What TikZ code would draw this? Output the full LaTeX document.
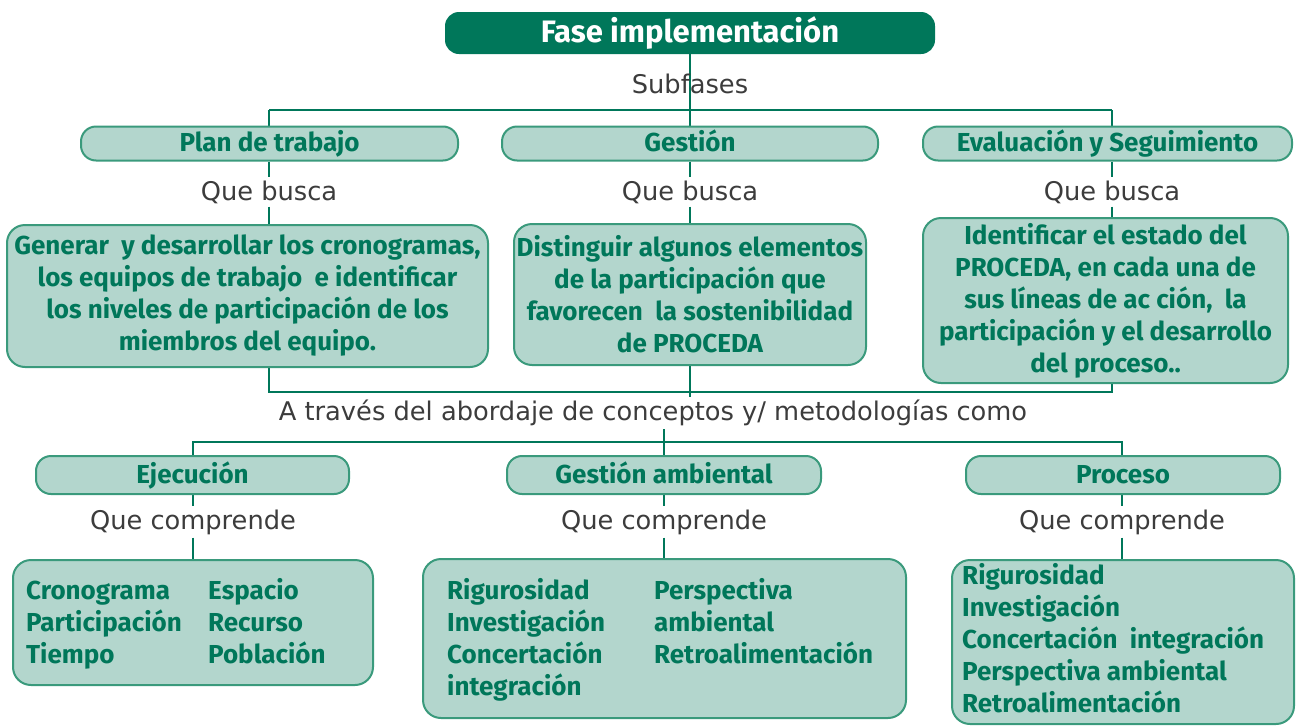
\documentclass[tikz,border=0pt]{standalone}
\usepackage{fontspec}
\setmainfont{Fira Sans}
\newfontfamily\grayfont{DejaVu Sans}
\usetikzlibrary{calc}
\definecolor{dkgreen}{HTML}{00775A}
\definecolor{boxfill}{HTML}{B3D6CD}
\definecolor{boxline}{HTML}{3A9A7C}
\definecolor{txtgray}{HTML}{3C3C3C}
\pgfdeclarelayer{background}
\pgfsetlayers{background,main}
\newcommand{\bodyfont}{\bfseries\fontsize{26}{32}\selectfont}
\newcommand{\labfont}{\grayfont\fontsize{25.7}{30}\selectfont}
\tikzset{
  conn/.style={draw=dkgreen, line width=2.6pt},
  fasebox/.style={fill=dkgreen, draw=none, rounded corners=14pt, inner sep=0pt,
    text=white, font=\bfseries\fontsize{31}{34}\selectfont},
  hdr/.style={draw=boxline, fill=boxfill, line width=2pt, rounded corners=15pt, inner sep=0pt,
    text=dkgreen, font=\bodyfont, text height=21pt, text depth=5pt},
  card/.style={draw=boxline, fill=boxfill, line width=2pt, rounded corners=18pt, inner sep=0pt,
    text=dkgreen, align=center, font=\bodyfont},
  btxt/.style={text=dkgreen, inner sep=0pt, align=left, anchor=north west, font=\bodyfont},
  lbl/.style={text=txtgray, fill=white, inner sep=3pt, font=\labfont},
  plainlbl/.style={text=txtgray, inner sep=0pt, font=\labfont}
}
\begin{document}
\begin{tikzpicture}[x=1pt,y=-1pt]
\useasboundingbox (0,0) rectangle (1296,726);
% top
\node[fasebox, minimum width=490pt, minimum height=42pt] (fase) at (690,33) {Fase implementación};
\node[plainlbl] (sub) at (690,84) {Subfases};
\coordinate (s1) at (269,110);
\coordinate (s3) at (1112,110);
% level 1
\node[hdr, minimum width=377pt, minimum height=34pt] (plan) at (269.5,143.5) {Plan de trabajo};
\node[hdr, minimum width=376pt, minimum height=34pt] (gest) at (690,143.5) {Gestión};
\node[hdr, minimum width=369pt, minimum height=34pt] (eval) at (1107.5,143.5) {Evaluación y Seguimiento};
\node[lbl] (qb1) at (269,192) {Que busca};
\node[lbl] (qb2) at (690,192) {Que busca};
\node[lbl] (qb3) at (1112,192) {Que busca};
% level 2
\node[card, minimum width=481pt, minimum height=142pt] (A) at (247.5,296)
  {Generar~ y desarrollar los cronogramas,\\los equipos de trabajo~ e identificar\\los niveles de participación de los\\miembros del equipo.};
\node[card, minimum width=352pt, minimum height=141pt] (B) at (690,294.5)
  {Distinguir algunos elementos\\de la participación que\\favorecen~ la sostenibilidad\\de PROCEDA};
\node[card, minimum width=365pt, minimum height=165pt] (C) at (1105.5,300.5)
  {Identificar el estado del\\PROCEDA, en cada una de\\sus líneas de ac ción,~ la\\participación y el desarrollo\\del proceso..};
\coordinate (j1) at (269,392);
\coordinate (j3) at (1112,392);
\node[lbl] (via) at (653,413) {A través del abordaje de conceptos y/ metodologías como};
\coordinate (k1) at (193,442);
\coordinate (k3) at (1122,442);
% level 3
\node[hdr, minimum width=313pt, minimum height=38pt] (ej) at (192.5,475) {Ejecución};
\node[hdr, minimum width=314pt, minimum height=38pt] (ga) at (664,475) {Gestión ambiental};
\node[hdr, minimum width=314pt, minimum height=38pt] (pr) at (1123,475) {Proceso};
\node[lbl] (qc1) at (193,522) {Que comprende};
\node[lbl] (qc2) at (664,522) {Que comprende};
\node[lbl] (qc3) at (1122,522) {Que comprende};
% level 4
\node[card, minimum width=360pt, minimum height=125pt] (D) at (193,622.5) {};
\node[btxt] (d1) at (26,581) {Cronograma\\Participación\\Tiempo};
\node[btxt] (d2) at (208,578) {Espacio\\Recurso\\Población};
\node[card, minimum width=483pt, minimum height=159pt] (E) at (664.5,638.5) {};
\node[btxt] (e1) at (447,578) {Rigurosidad\\Investigación\\Concertación\\integración};
\node[btxt] (e2) at (654,578) {Perspectiva\\ambiental\\Retroalimentación};
\node[card, minimum width=342pt, minimum height=164pt] (F) at (1123,642) {};
\node[btxt] (f1) at (962,563) {Rigurosidad\\Investigación\\Concertación~ integración\\Perspectiva ambiental\\Retroalimentación};
% connectors
\begin{pgfonlayer}{background}
\draw[conn] (fase.south) -- (gest.north);
\draw[conn] (s1) -- (s3);
\draw[conn] (s1) -- (s1 |- plan.north);
\draw[conn] (s3) -- (s3 |- eval.north);
\draw[conn] (qb1 |- plan.south) -- (qb1.north);
\draw[conn] (qb2 |- gest.south) -- (qb2.north);
\draw[conn] (qb3 |- eval.south) -- (qb3.north);
\draw[conn] (qb1.south) -- (qb1.south |- A.north);
\draw[conn] (qb2.south) -- (qb2.south |- B.north);
\draw[conn] (qb3.south) -- (qb3.south |- C.north);
\draw[conn] (j1 |- A.south) -- (j1) -- (j3) -- (j3 |- C.south);
\draw[conn] (B.south) -- (B.south |- via.north);
\draw[conn] (k1 |- ej.north) -- (k1) -- (k3) -- (k3 |- pr.north);
\draw[conn] (ga.north) -- (ga.north |- via.south);
\draw[conn] (qc1 |- ej.south) -- (qc1.north);
\draw[conn] (qc2 |- ga.south) -- (qc2.north);
\draw[conn] (qc3 |- pr.south) -- (qc3.north);
\draw[conn] (qc1.south) -- (qc1.south |- D.north);
\draw[conn] (qc2.south) -- (qc2.south |- E.north);
\draw[conn] (qc3.south) -- (qc3.south |- F.north);
\end{pgfonlayer}
\end{tikzpicture}
\end{document}
